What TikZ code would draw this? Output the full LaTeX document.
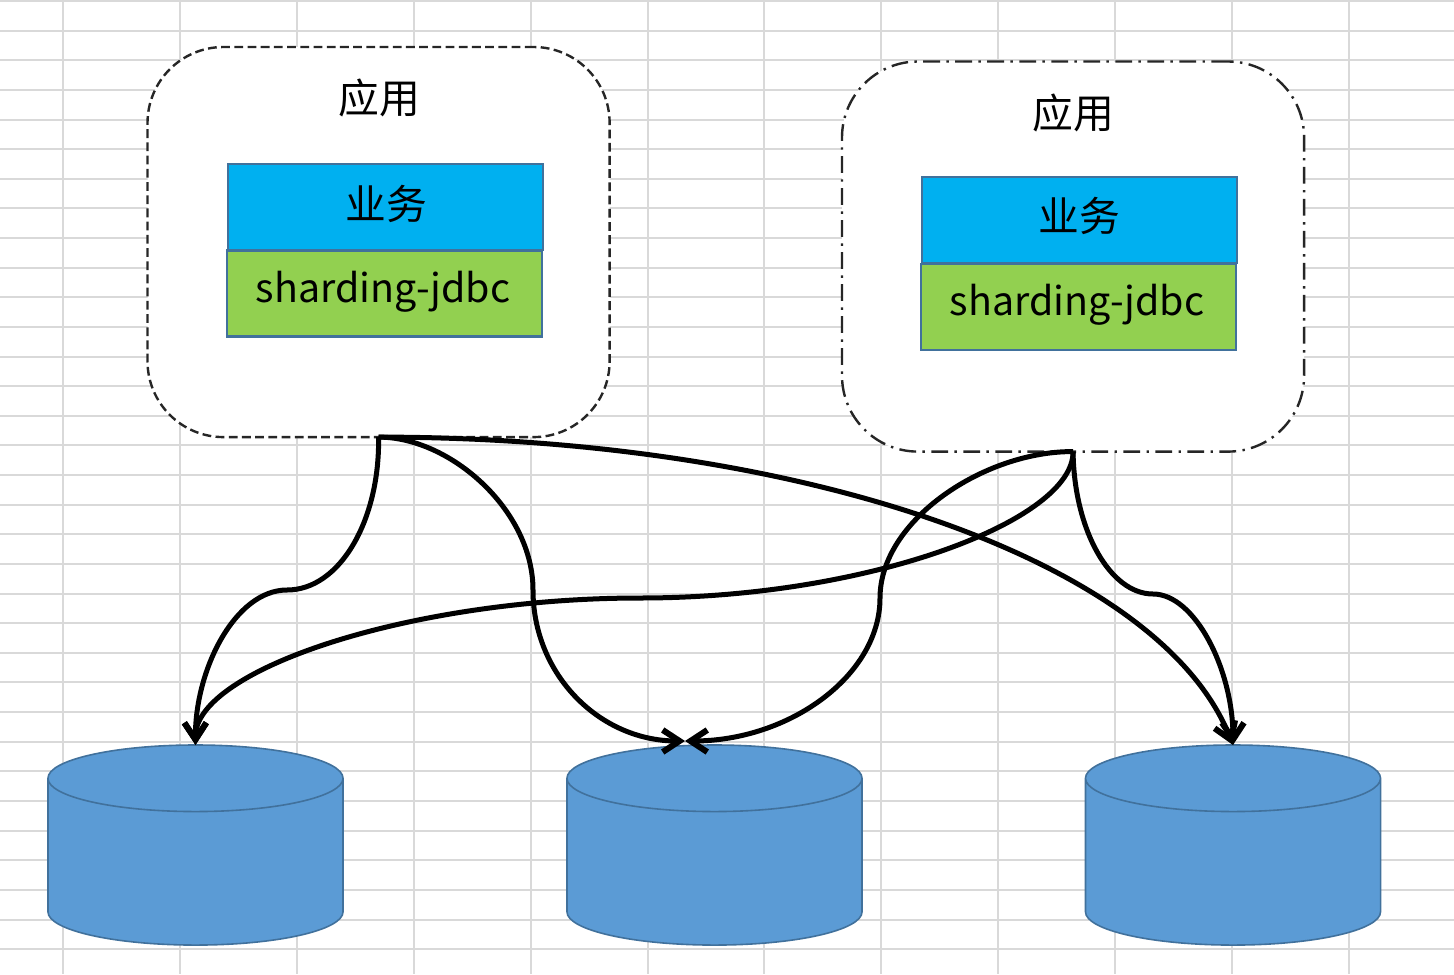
\documentclass[tikz,border=0pt]{standalone}
\usepackage{xcolor}
\usepackage{fontspec}
\setmainfont{Noto Sans CJK SC}
\usetikzlibrary{positioning,shapes.geometric,arrows.meta}

\definecolor{gridgray}{HTML}{D9D9D9}
\definecolor{bizblue}{HTML}{00B0F0}
\definecolor{jdbcgreen}{HTML}{92D050}
\definecolor{edgeblue}{HTML}{41719C}
\definecolor{dbblue}{HTML}{5B9BD5}

\tikzset{
    appbox/.style={minimum height=9.75cm, minimum width=11.55cm, rounded corners=1.9cm, fill=white, draw=black!85, line width=.06cm, outer sep=0pt, anchor=north west},
    dashleft/.style={dash pattern=on .22cm off .11cm},
    dashright/.style={dash pattern=on .42cm off .16cm on .06cm off .16cm},
    cjklabel/.style={font=\fontsize{29}{29}\selectfont},
    jdbclabel/.style={font=\fontsize{28}{28}\selectfont},
    bizbox/.style={minimum height=2.15cm, minimum width=7.875cm, fill=bizblue, draw=edgeblue, line width=.07cm, outer sep=0pt, anchor=north west},
    jdbcbox/.style={minimum height=2.15cm, minimum width=7.875cm, fill=jdbcgreen, draw=edgeblue, line width=.07cm, outer sep=0pt, anchor=north west},
    dbshape/.style={cylinder, shape border rotate=90, shape aspect=7.1, minimum height=5.0cm, minimum width=7.375cm, cylinder uses custom fill, cylinder body fill=dbblue, cylinder end fill=dbblue, draw=edgeblue, line width=.04cm, outer sep=0pt, anchor=north},
    link/.style={-{Straight Barb[length=.42cm,width=.55cm,line width=.15cm]}, line width=.125cm}
}

\begin{document}
\begin{tikzpicture}[x=.025cm, y=-.025cm]
        \useasboundingbox (0,0) rectangle (1454,974);

        \foreach \gx in {0,...,11}
            \draw[gridgray, line width=.05cm] (63+\gx*116.9,0) -- (63+\gx*116.9,974);
        \foreach \gy in {0,...,32}
            \draw[gridgray, line width=.05cm] (0,1+\gy*29.63) -- (1454,1+\gy*29.63);

        \node (appleft) [appbox, dashleft] at (147.5,47) {};
        \node (appright) [appbox, dashright] at (842,61.5) {};
        \node (titleleft) [cjklabel] at (379,98) {应用};
        \node (titleright) [cjklabel] at (1073,113) {应用};

        \node (bizleft) [bizbox] at (228,164) {};
        \node (bizleftlabel) [cjklabel] at (386,204) {业务};
        \node (jdbcleft) [jdbcbox] at (227,250.5) {};
        \node (jdbcleftlabel) [jdbclabel] at (383,292) {sharding-jdbc};

        \node (bizright) [bizbox] at (922,177) {};
        \node (bizrightlabel) [cjklabel] at (1079,216) {业务};
        \node (jdbcright) [jdbcbox] at (921,264) {};
        \node (jdbcrightlabel) [jdbclabel] at (1077,305) {sharding-jdbc};

        \node (dbleft) [dbshape] at (195.5,745) {};
        \node (dbmid) [dbshape] at (714.5,745) {};
        \node (dbright) [dbshape] at (1233,745) {};

        \coordinate (dbmidin) at (685,741);

        \draw[link] (appleft.south) .. controls (380,520) and (340,590) .. (287,590) .. controls (235,590) and (195,670) .. (dbleft.north);
        \draw[link] (appleft.south) .. controls (450,437) and (533,510) .. (533,590) .. controls (533,675) and (600,741) .. (dbmidin);
        \draw[link] (appleft.south) .. controls (800,437) and (1160,560) .. (dbright.north);
        \draw[link] (appright.south) .. controls (1074,530) and (1110,594) .. (1153,594) .. controls (1195,594) and (1233,670) .. (dbright.north);
        \draw[link] (appright.south) .. controls (1074,520) and (870,598) .. (640,598) .. controls (410,598) and (195,670) .. (dbleft.north);
        \draw[link] (appright.south) .. controls (985,451) and (880,520) .. (880,598) .. controls (880,675) and (790,741) .. (dbmidin);
\end{tikzpicture}
\end{document}
